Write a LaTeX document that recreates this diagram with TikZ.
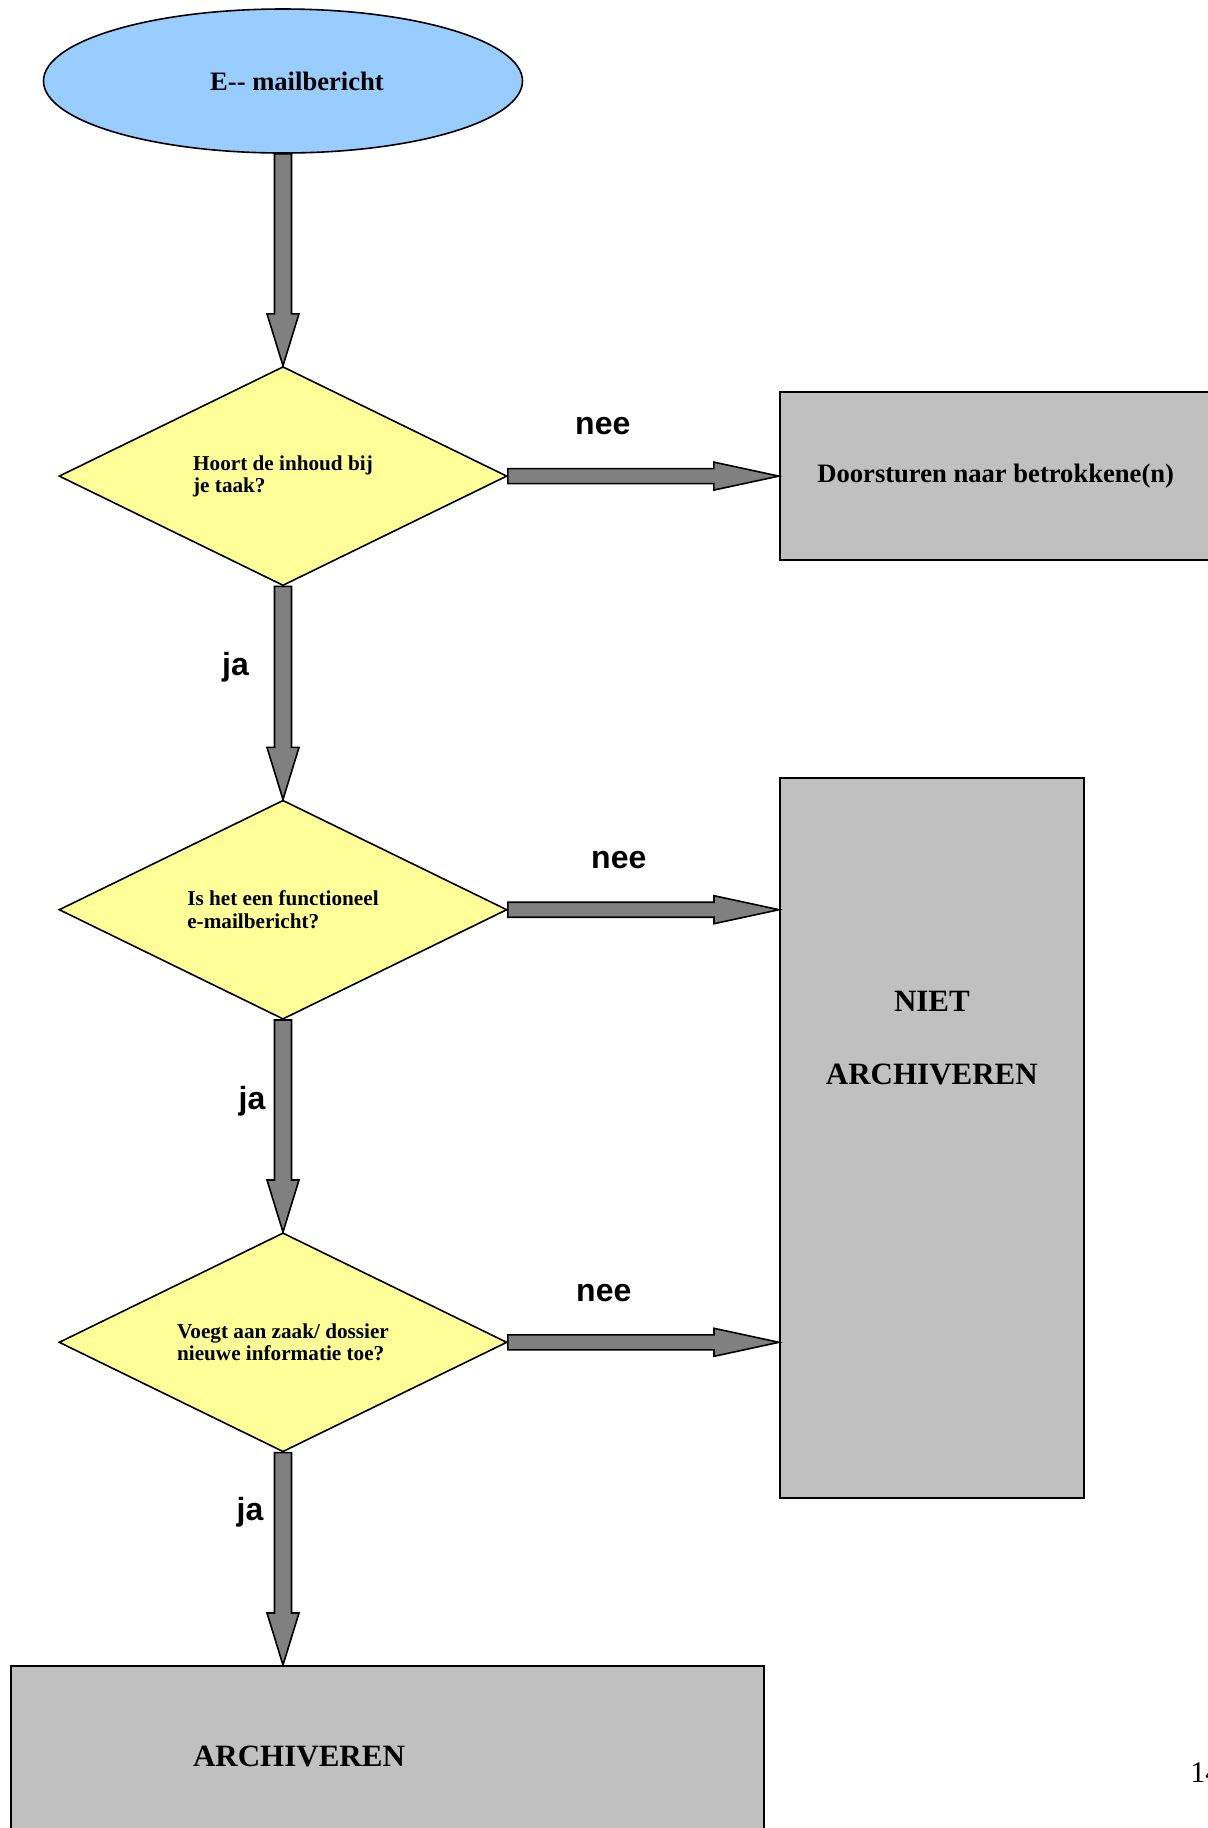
\documentclass[tikz,border=0pt]{standalone}
\usepackage{fontspec}
\setmainfont{Liberation Serif}
\newfontfamily\labelfont{Liberation Sans}
\usepackage{tikz}
\usetikzlibrary{shapes.geometric,positioning,calc}

\definecolor{mailblauw}{HTML}{99CCFF}
\definecolor{vraaggeel}{HTML}{FFFF99}
\definecolor{doosgrijs}{HTML}{C0C0C0}
\definecolor{pijlgrijs}{HTML}{808080}

% block arrows (shaft + head), from #1 to #2
\newcommand{\pijlomlaag}[2]{%
  \filldraw[pijl] ($(#1)+(-8.5,0)$) -- ($(#2)+(-8.5,-52)$) -- ($(#2)+(-16,-52)$) -- (#2)
    -- ($(#2)+(16,-52)$) -- ($(#2)+(8.5,-52)$) -- ($(#1)+(8.5,0)$) -- cycle;}
\newcommand{\pijlrechts}[2]{%
  \filldraw[pijl] ($(#1)+(0,-7.5)$) -- ($(#2)+(-65,-7.5)$) -- ($(#2)+(-65,-14)$) -- (#2)
    -- ($(#2)+(-65,14)$) -- ($(#2)+(-65,7.5)$) -- ($(#1)+(0,7.5)$) -- cycle;}

\begin{document}
\begin{tikzpicture}[
    x=0.5pt, y=-0.5pt,
    bericht/.style={ellipse, draw, fill=mailblauw, line width=0.8pt, minimum width=239.5pt, minimum height=72pt, inner sep=0, font=\bfseries\fontsize{13.3}{16}\selectfont},
    vraag/.style={diamond, aspect=2, draw, fill=vraaggeel, line width=0.8pt, minimum width=224pt, minimum height=109.5pt, inner sep=0, align=left, font=\bfseries\fontsize{10.6}{11.2}\selectfont},
    doos/.style={rectangle, draw, fill=doosgrijs, line width=0.9pt, inner sep=0},
    groot/.style={font=\bfseries\fontsize{15.5}{36.5}\selectfont, inner sep=0, align=center},
    antwoord/.style={font=\labelfont\bfseries\fontsize{16}{19}\selectfont, anchor=base, inner sep=0},
    pijl/.style={draw=black, fill=pijlgrijs, line width=0.8pt, line join=miter}
]
\useasboundingbox (0,0) rectangle (1208,1828);

% Main column
\node[bericht] (mail) at (283,81) {\hspace*{14pt}E-{}- mailbericht};
\node[vraag, below=106pt of mail] (taak) {Hoort de inhoud bij\\je taak?};
\node[vraag, below=106.5pt of taak] (functioneel) {Is het een functioneel\\e-mailbericht?};
\node[vraag, below=106pt of functioneel] (zaak) {Voegt aan zaak/ dossier\\nieuwe informatie toe?};

% Outcome boxes
\node[doos, minimum width=216pt, minimum height=84pt, right=135.5pt of taak, font=\bfseries\fontsize{13.3}{16}\selectfont] (doorsturen) {Doorsturen naar betrokkene(n)};
\node[doos, minimum width=152pt, minimum height=360pt, anchor=north west] (niet) at (779,777) {};
\node[groot, anchor=north] (niettekst) at ($(niet.north)+(0,214)$) {NIET\\ARCHIVEREN};
\node[doos, minimum width=376.5pt, minimum height=100pt, anchor=north west] (archief) at (10,1665) {};
\node[groot, anchor=base] (archieftekst) at ($(archief.north west)+(289,101)$) {ARCHIVEREN};

% Arrow ends on the boxes
\coordinate (doel1) at (taak.east -| doorsturen.west);
\coordinate (doel2) at (functioneel.east -| niet.west);
\coordinate (doel3) at (zaak.east -| niet.west);

% Arrows - down (ja)
\pijlomlaag{mail.south}{taak.north}
\pijlomlaag{taak.south}{functioneel.north}
\pijlomlaag{functioneel.south}{zaak.north}
\pijlomlaag{zaak.south}{zaak.south |- archief.north}

% Arrows - right (nee)
\pijlrechts{taak.east}{doel1}
\pijlrechts{functioneel.east}{doel2}
\pijlrechts{zaak.east}{doel3}

% Labels
\node[antwoord] (nee1) at ($(taak.east)+(95,-42)$) {nee};
\node[antwoord] (nee2) at ($(functioneel.east)+(111,-41)$) {nee};
\node[antwoord] (nee3) at ($(zaak.east)+(96,-41)$) {nee};
\node[antwoord] (ja1) at ($(taak.south)+(-47.5,89)$) {ja};
\node[antwoord] (ja2) at ($(functioneel.south)+(-31,89)$) {ja};
\node[antwoord] (ja3) at ($(zaak.south)+(-33,68)$) {ja};

% Page number
\node[anchor=base west, inner sep=0, font=\fontsize{15}{18}\selectfont] (pagina) at (1190,1782) {14};

\end{tikzpicture}
\end{document}
